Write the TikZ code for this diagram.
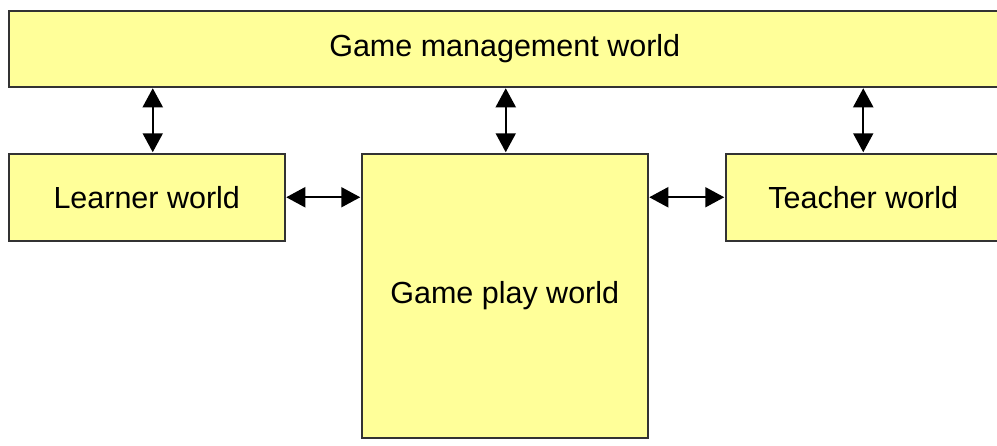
\documentclass[tikz,border=0pt]{standalone}
\usepackage{fontspec}
\setmainfont{Liberation Sans}
\usetikzlibrary{arrows.meta}
\definecolor{boxfill}{HTML}{FFFF99}
\definecolor{boxline}{HTML}{333333}
\tikzset{
  world/.style={draw=boxline, fill=boxfill, line width=1.5pt, rectangle, inner sep=0pt,
    font=\fontsize{30.5}{36}\selectfont, text=black},
  dbl/.style={line width=2pt, {Triangle[length=19pt,width=20pt]}-{Triangle[length=19pt,width=20pt]}, shorten <=0.75pt, shorten >=0.75pt}
}
\begin{document}
\begin{tikzpicture}[x=1pt,y=-1pt]
\useasboundingbox (0,0) rectangle (997,445);
\clip (0,0) rectangle (997,445);
\node[world, minimum width=992pt, minimum height=76pt, anchor=north west] (top) at (8,10) {Game management world};
\node[world, minimum width=276pt, minimum height=87pt, anchor=north west] (learner) at (8,153) {Learner world};
\node[world, minimum width=286pt, minimum height=284pt, anchor=north west] (play) at (361,153) {Game play world};
\node[world, minimum width=275pt, minimum height=87pt, anchor=north west] (teacher) at (725,153) {Teacher world};
\draw[dbl] ([xshift=6pt]learner.north |- top.south) -- ([xshift=6pt]learner.north);
\draw[dbl] ([xshift=1pt]play.north |- top.south) -- ([xshift=1pt]play.north);
\draw[dbl] (teacher.north |- top.south) -- (teacher.north);
\draw[dbl] (learner.east) -- (play.west |- learner.east);
\draw[dbl] (play.east |- teacher.west) -- (teacher.west);
\end{tikzpicture}
\end{document}
